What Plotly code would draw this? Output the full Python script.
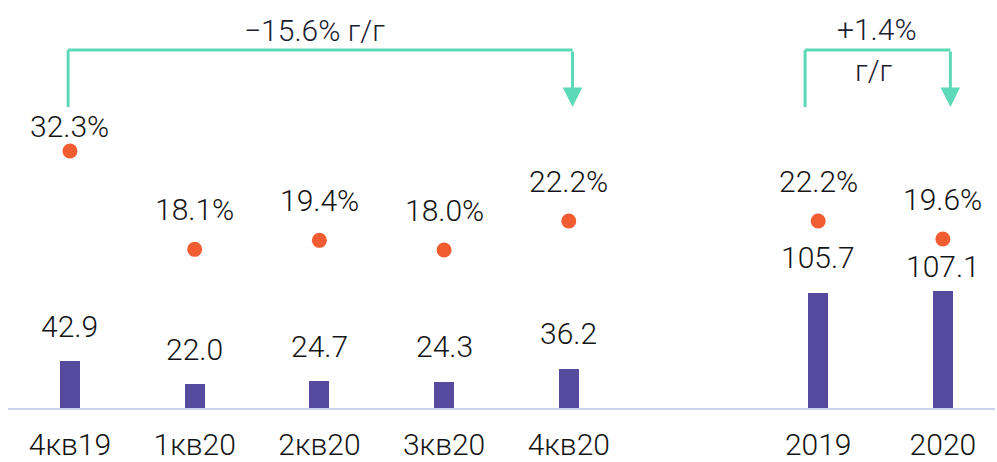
import plotly.graph_objects as go

# data
periods = ["4кв19", "1кв20", "2кв20", "3кв20", "4кв20", "2019", "2020"]
slots = [0, 1, 2, 3, 4, 6, 7]          # gap between quarters and years
values = [42.9, 22.0, 24.7, 24.3, 36.2, 105.7, 107.1]
margins = [32.3, 18.1, 19.4, 18.0, 22.2, 22.2, 19.6]
value_labels = ["42.9", "22.0", "24.7", "24.3", "36.2", "105.7", "107.1"]
margin_labels = ["32.3%", "18.1%", "19.4%", "18.0%", "22.2%", "22.2%", "19.6%"]
yoy_quarter = "−15.6% г/г"
yoy_year = "+1.4%"
yoy_year_unit = "г/г"

BAR = "#554a9d"
DOT = "#f25c31"
MINT = "#5cd9b8"
TXT = "#141414"
FONT = "Roboto"
FS = 30
WT = 300

fig = go.Figure()

fig.add_trace(go.Bar(
    x=slots, y=values, width=0.16,
    marker=dict(color=BAR, line=dict(width=0)),
    hoverinfo="skip",
))

fig.add_trace(go.Scatter(
    x=slots, y=margins, yaxis="y2", mode="markers",
    marker=dict(color=DOT, size=15),
    hoverinfo="skip",
))

# label offsets (px) - a couple are nudged by hand in the original
val_shift = [35, 35, 35, 35, 35, 35, 25]
pct_shift = [25, 40, 40, 40, 39, 39, 39]

font = dict(size=FS, color=TXT, family=FONT, weight=WT)
ann = []
for x, v, t, s in zip(slots, values, value_labels, val_shift):
    ann.append(dict(x=x, y=v, text=t, showarrow=False, yshift=s,
                    yanchor="middle", font=font))
for x, p, t, s in zip(slots, margins, margin_labels, pct_shift):
    ann.append(dict(x=x, y=p, yref="y2", text=t, showarrow=False, yshift=s,
                    yanchor="middle", font=font))

# brackets
top = 1 - 50 / 408
bot = 1 - 107 / 408
shapes = []
for x0, x1 in [(slots[0] - 0.015, slots[4] + 0.03), (slots[5] - 0.105, slots[6] + 0.06)]:
    shapes.append(dict(type="line", xref="x", yref="paper", x0=x0, x1=x0, y0=bot, y1=top,
                       line=dict(color=MINT, width=3)))
    shapes.append(dict(type="line", xref="x", yref="paper", x0=x0, x1=x1, y0=top, y1=top,
                       line=dict(color=MINT, width=3)))
    ann.append(dict(x=x1, y=bot, xref="x", yref="paper", ax=0, ay=-57,
                    axref="pixel", ayref="pixel", text="", showarrow=True,
                    arrowhead=2, arrowsize=1.3, arrowwidth=3, arrowcolor=MINT))

bfont = dict(size=FS, color="#1b2030", family=FONT, weight=WT)
ann.append(dict(x=(slots[0] + slots[4]) / 2 - 0.04, y=1 - 31 / 408, yref="paper",
                text=yoy_quarter, showarrow=False, yanchor="middle", font=bfont))
ann.append(dict(x=(slots[5] + slots[6]) / 2 - 0.03, y=1 - 30 / 408, yref="paper",
                text=yoy_year, showarrow=False, yanchor="middle", font=bfont))
ann.append(dict(x=(slots[5] + slots[6]) / 2 - 0.05, y=1 - 70 / 408, yref="paper",
                text=yoy_year_unit, showarrow=False, yanchor="middle", font=bfont))

fig.update_layout(
    width=997, height=462,
    margin=dict(l=8, r=2, t=0, b=54),
    plot_bgcolor="white", paper_bgcolor="white",
    showlegend=False,
    bargap=0,
    xaxis=dict(range=[-0.497, 7.418], tickvals=slots, ticktext=periods,
               showgrid=False, zeroline=False, showline=True, automargin=False,
               linecolor="#c9d1ef", linewidth=2, ticks="", ticklabelstandoff=9,
               tickfont=font, fixedrange=True),
    yaxis=dict(range=[0, 374.3], visible=False),
    yaxis2=dict(range=[-4.83, 54.13], overlaying="y", visible=False),
    shapes=shapes,
    annotations=ann,
)

fig.write_html("out.html", config={"displayModeBar": False},
               post_script="document.body.style.margin='0';")
